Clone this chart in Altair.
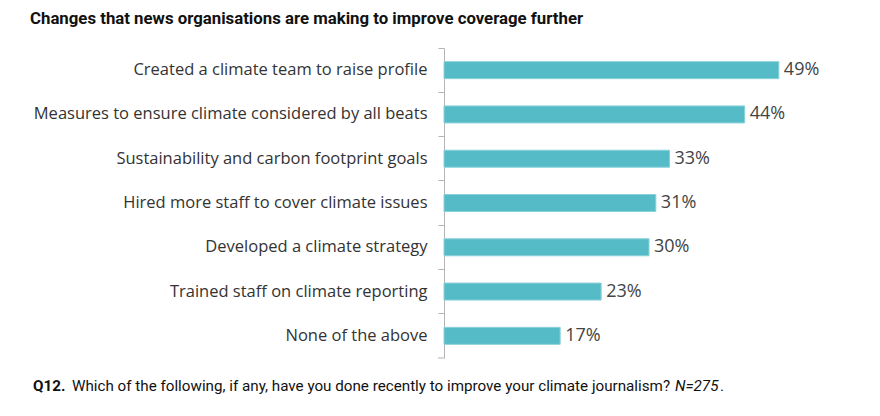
import altair as alt
import pandas as pd

categories = [
    "Created a climate team to raise profile",
    "Measures to ensure climate considered by all beats",
    "Sustainability and carbon footprint goals",
    "Hired more staff to cover climate issues",
    "Developed a climate strategy",
    "Trained staff on climate reporting",
    "None of the above",
]
values = [49, 44, 33, 31, 30, 23, 17]
title_text = "Changes that news organisations are making to improve coverage further"
foot_bold = "Q12."
foot_regular = "Which of the following, if any, have you done recently to improve your climate journalism?"
foot_italic = "N=275"
foot_end = "."

df = pd.DataFrame({"cat": categories, "val": values})
df["label"] = [f"{v}%" for v in values]

W, H = 410, 310

y_enc = alt.Y("cat:N", sort=categories, title=None,
              scale=alt.Scale(paddingInner=0, paddingOuter=0),
              axis=alt.Axis(bandPosition=0, labelFont="Open Sans", labelFontSize=16.5,
                            labelColor="#333333", labelPadding=11, tickSize=6,
                            tickColor="#b5b5b5", domainColor="#b5b5b5",
                            labelLimit=430))
x_enc = alt.X("val:Q", scale=alt.Scale(domain=[0, 60]), axis=None)

bars = alt.Chart(df).mark_bar(size=17, color="#55bbc7", stroke="#8ad2d9",
                              strokeWidth=1).encode(x=x_enc, y=y_enc)
labels = alt.Chart(df).mark_text(align="left", dx=5, font="Open Sans", fontSize=18,
                                 color="#444444").encode(x=x_enc, y=y_enc, text="label")

bottom_tick = alt.Chart(pd.DataFrame({"a": [0]})).mark_rule(color="#b5b5b5").encode(
    x=alt.value(-6), x2=alt.value(0), y=alt.value(H))

def txt(s, x, y, **kw):
    return alt.Chart(pd.DataFrame({"t": [s]})).mark_text(
        align="left", baseline="middle", **kw).encode(
        text="t:N", x=alt.value(x), y=alt.value(y))

left0 = 436
title = txt(title_text, 30 - 8 - left0, 19 - 8 - 40, font="Roboto",
            fontWeight="bold", fontSize=16.8, color="#111111")
fy = 386 - 8 - 40
f1 = txt(foot_bold, 33 - 8 - left0, fy, font="Roboto", fontWeight="bold",
         fontSize=15.2, color="#111111")
f2 = txt(foot_regular, 72 - 8 - left0, fy, font="Roboto", fontSize=15.2, color="#111111")
f3 = txt(foot_italic, 675 - 8 - left0, fy, font="Roboto", fontStyle="italic",
         fontSize=15.2, color="#111111")
f4 = txt(foot_end, 720 - 8 - left0, fy, font="Roboto", fontSize=15.2, color="#111111")

chart = alt.layer(bars, labels, bottom_tick, title, f1, f2, f3, f4).properties(
    width=W, height=H,
    background="white",
    autosize=alt.AutoSizeParams(type="none"),
    padding={"left": left0, "top": 40, "right": 18, "bottom": 50},
).configure_view(stroke="transparent", strokeWidth=0)

chart.save("out.html", embed_options={"renderer": "svg", "actions": False})
